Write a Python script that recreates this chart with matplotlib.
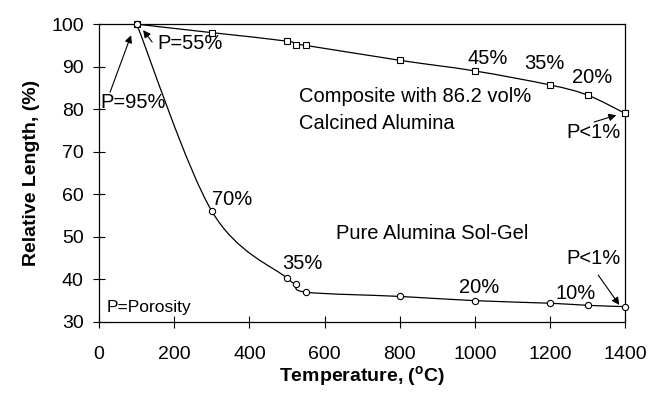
import matplotlib
matplotlib.use("Agg")
import matplotlib.pyplot as plt
from matplotlib.path import Path
from matplotlib.patches import PathPatch

plt.rcParams['font.family'] = ['Liberation Sans', 'DejaVu Sans']
plt.rcParams['mathtext.fontset'] = 'custom'
plt.rcParams['mathtext.rm'] = 'Liberation Sans'
plt.rcParams['mathtext.bf'] = 'Liberation Sans:bold'

# data
temp = [100, 300, 500, 525, 550, 800, 1000, 1200, 1300, 1400]
composite = [100, 98, 96, 95.1, 95, 91.5, 89, 85.7, 83.3, 79]
solgel = [100, 56, 40.3, 39, 37, 36, 35, 34.4, 33.9, 33.6]

# porosity labels and where they sit (data coords)
comp_labels = ["45%", "35%", "20%"]
comp_label_xy = [(1035, 92.0), (1184, 90.8), (1312, 87.5)]
sol_labels = ["70%", "35%", "20%", "10%"]
sol_label_xy = [(355, 58.9), (541, 43.7), (1011, 38.0), (1267, 36.6)]


def smoothPath(x, y):
    # Excel-style smoothed line: cubic bezier, control points from neighbours
    pts = list(zip(x, y))
    verts = [pts[0]]; codes = [Path.MOVETO]
    n = len(pts)
    for i in range(n-1):
        p0 = pts[max(i-1, 0)]; p1 = pts[i]; p2 = pts[i+1]; p3 = pts[min(i+2, n-1)]
        c1 = (p1[0] + (p2[0]-p0[0])/6, p1[1] + (p2[1]-p0[1])/6)
        c2 = (p2[0] - (p3[0]-p1[0])/6, p2[1] - (p3[1]-p1[1])/6)
        verts += [c1, c2, p2]; codes += [Path.CURVE4]*3
    return Path(verts, codes)


fig = plt.figure(figsize=(6.48, 3.96), dpi=100)
ax = fig.add_axes([0.153, 0.187, 0.812, 0.752])

for ys, mk in ((composite, 's'), (solgel, 'o')):
    ax.add_patch(PathPatch(smoothPath(temp, ys), fill=False, lw=0.9, color='black'))
    ax.plot(temp, ys, linestyle='none', marker=mk, ms=4.5, mfc='white', mec='black', mew=0.8, zorder=3, clip_on=False)

ax.set_xlim(0, 1400)
ax.set_ylim(30, 100)
ax.set_xticks(range(0, 1401, 200))
ax.set_yticks(range(30, 101, 10))
ax.tick_params(direction='inout', length=8, width=0.8, labelsize=14)
ax.tick_params(axis='x', pad=13)
ax.tick_params(axis='y', pad=7)
for s in ax.spines.values():
    s.set_linewidth(0.9)

ax.set_xlabel(r'Temperature, ($^\mathbf{o}$C)', fontsize=14, fontweight='bold', labelpad=1)
ax.set_ylabel('Relative Length, (%)', fontsize=14, fontweight='bold', labelpad=8)

fs = 14.5
for lab, (x, y) in zip(comp_labels + sol_labels, comp_label_xy + sol_label_xy):
    ax.text(x, y, lab, fontsize=fs, ha='center', va='center')

ap = dict(arrowstyle='-|>', color='black', lw=0.8, mutation_scale=11, shrinkA=0, shrinkB=0)
ax.text(2.7, 81.7, 'P=95%', fontsize=fs, va='center')
ax.annotate('', xy=(85, 97.4), xytext=(29, 84.0), arrowprops=ap)
ax.text(155, 95.5, 'P=55%', fontsize=fs, va='center')
ax.annotate('', xy=(117, 98.6), xytext=(141, 95.8), arrowprops=ap)
ax.text(1243, 74.6, 'P<1%', fontsize=fs, va='center')
ax.annotate('', xy=(1376, 78.6), xytext=(1317, 77.0), arrowprops=ap)
ax.text(1243, 45.0, 'P<1%', fontsize=fs, va='center')
ax.annotate('', xy=(1384, 34.0), xytext=(1328, 41.0), arrowprops=ap)

ax.text(531, 83.1, 'Composite with 86.2 vol%', fontsize=fs, va='center')
ax.text(531, 76.7, 'Calcined Alumina', fontsize=fs, va='center')
ax.text(629, 50.9, 'Pure Alumina Sol-Gel', fontsize=fs, va='center')
ax.text(21, 33.5, 'P=Porosity', fontsize=12.5, va='center')

fig.savefig('out.png', dpi=100)
